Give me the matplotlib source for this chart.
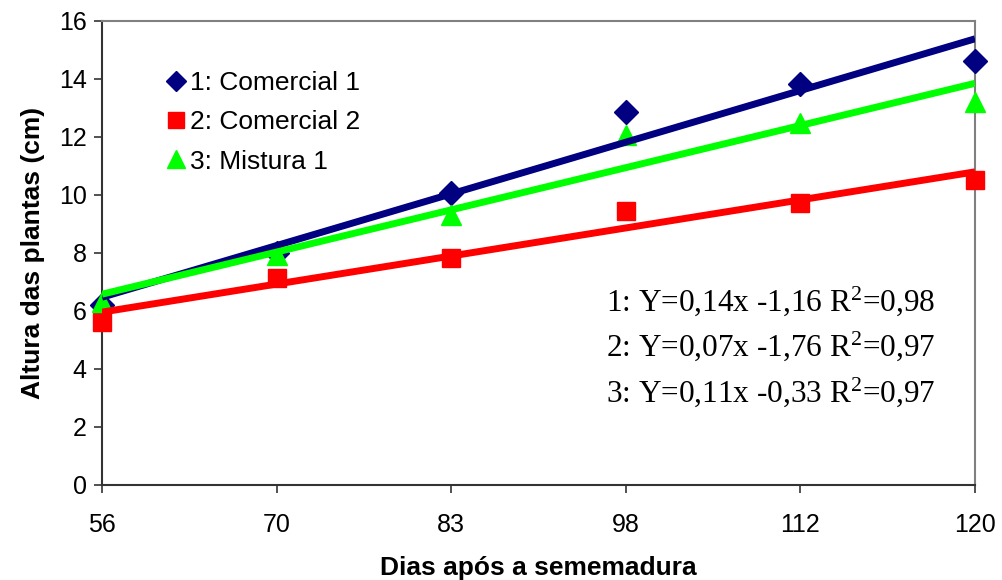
import numpy as np
import matplotlib
matplotlib.use("Agg")
import matplotlib.pyplot as plt
from matplotlib.lines import Line2D

days = ["56", "70", "83", "98", "112", "120"]
comercial1 = [6.2, 8.0, 10.07, 12.86, 13.83, 14.62]
comercial2 = [5.62, 7.14, 7.83, 9.45, 9.72, 10.52]
mistura1 = [6.3, 7.93, 9.31, 12.07, 12.48, 13.2]
names = ["1: Comercial 1", "2: Comercial 2", "3: Mistura 1"]
equations = ["1: Y=0,14x -1,16 R$^2$=0,98",
             "2: Y=0,07x -1,76 R$^2$=0,97",
             "3: Y=0,11x -0,33 R$^2$=0,97"]

plt.rcParams['font.family'] = ['Liberation Sans', 'DejaVu Sans']
plt.rcParams['mathtext.fontset'] = 'custom'
plt.rcParams['mathtext.rm'] = 'Liberation Serif'
plt.rcParams['mathtext.it'] = 'Liberation Serif'
plt.rcParams['mathtext.bf'] = 'Liberation Serif:bold'
plt.rcParams['mathtext.default'] = 'regular'

fig = plt.figure(figsize=(10.02, 5.8), dpi=100)
ax = fig.add_axes([102/1002, 1-485/580, (975-102)/1002, (485-21)/580])

x = np.arange(len(days))
series = [comercial1, comercial2, mistura1]
colors = ["#000080", "#FF0000", "#00FF00"]
markers = ["D", "s", "^"]
msizes = [12, 13, 15]
handles = []
for ys, c, m, ms, nm in zip(series, colors, markers, msizes, names):
    ax.plot(x, ys, linestyle='none', marker=m, color=c, markersize=ms, zorder=3, clip_on=False)
    k, b = np.polyfit(x, ys, 1)
    ax.plot(x, k*x + b, color=c, linewidth=5, zorder=4, solid_capstyle='butt')
    handles.append(Line2D([], [], linestyle='none', marker=m, color=c, markersize=ms*0.85, label=nm))

ax.set_xlim(0, 5)
ax.set_ylim(0, 16)
ax.set_yticks(np.arange(0, 17, 2))
ax.set_xticks(x)
ax.set_xticklabels(days)
ax.tick_params(axis='both', labelsize=18, length=6, width=1.2, color='#333333')
ax.tick_params(axis='x', pad=14)
ax.tick_params(axis='y', pad=5)
for s in ['left', 'bottom']:
    ax.spines[s].set_color('#333333')
    ax.spines[s].set_linewidth(1.5)
for s in ['top', 'right']:
    ax.spines[s].set_color('#808080')
    ax.spines[s].set_linewidth(1.5)

ax.set_xlabel("Dias após a sememadura", fontsize=19, fontweight='bold', labelpad=14)
ax.set_ylabel("Altura das plantas (cm)", fontsize=19, fontweight='bold', labelpad=10)

leg = ax.legend(handles=handles, loc='upper left', bbox_to_anchor=(0.062, 0.915),
                frameon=False, fontsize=19, handlelength=0.7, handletextpad=0.2,
                labelspacing=0.58, borderaxespad=0)

for i, eq in enumerate(equations):
    ax.text(0.955, 0.395 - i*0.097, eq, transform=ax.transAxes, ha='right', va='center',
            fontsize=22.5, family=['Liberation Serif', 'DejaVu Serif'])

fig.savefig("out.png", dpi=100)
